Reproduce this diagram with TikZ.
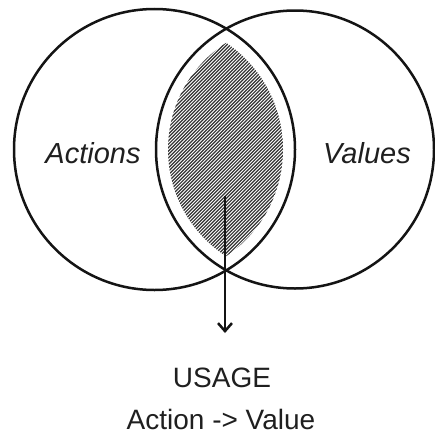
\documentclass[tikz,border=0pt]{standalone}
\usepackage{fontspec}
\setmainfont{Liberation Sans}
\usetikzlibrary{arrows.meta}
\tikzset{
  setring/.style={draw=black!92, line width=2.5pt},
  hatchline/.style={draw=black!80, line width=1.2pt},
  txt/.style={inner sep=0pt, text=black!88},
  flow/.style={draw=black!92, line width=2.5pt, -{Straight Barb[length=8pt,width=14pt,line width=2.5pt]}}
}
\begin{document}
\begin{tikzpicture}[x=1pt,y=-1pt]
\useasboundingbox[fill=white] (0,0) rectangle (434,439);
% circles
\node[setring, circle, minimum size=281pt, inner sep=0pt] (L) at (154.5,149.5) {};
\node[setring, circle, minimum size=278pt, inner sep=0pt] (R) at (295,149.5) {};
% hatched inner lens
\begin{scope}
  \clip (154.5,149.5) circle (128.5);
  \clip (295,149.5) circle (127);
  \foreach \k in {0,...,140} {
    \draw[hatchline] (-120+3.4*\k,300) -- (-120+3.4*\k+300,0);
  }
\end{scope}
% labels
\node[txt, font=\fontsize{29}{33}\selectfont\itshape] (act) at (93,153) {Actions};
\node[txt, font=\fontsize{29}{33}\selectfont\itshape] (val) at (367,153) {Values};
\coordinate (start) at (225,196);
\coordinate (tip) at (225,333);
\draw[flow] (start) -- (tip);
\node[txt, font=\fontsize{28}{32}\selectfont] (usage) at (222,378) {USAGE};
\node[txt, font=\fontsize{28}{32}\selectfont] (av) at (221,419) {Action -> Value};
\end{tikzpicture}
\end{document}
